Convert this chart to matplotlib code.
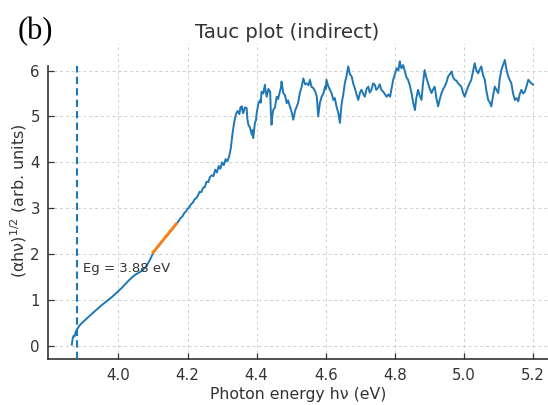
import matplotlib
matplotlib.use("Agg")
import matplotlib.pyplot as plt
import numpy as np

# ---- data ----
eg_value = 3.88
fit_range = [4.10, 4.167]
fit_slope = 9.27

energy_edge = [3.865, 3.868, 3.870, 3.873, 3.876, 3.880, 3.885, 3.890, 3.900, 3.910,
               3.920, 3.935, 3.950, 3.965, 3.980, 3.995, 4.010, 4.025, 4.040, 4.050,
               4.060, 4.070, 4.080, 4.090, 4.100, 4.110, 4.120, 4.130, 4.140, 4.150,
               4.160, 4.170]
tauc_edge = [0.03, 0.18, 0.22, 0.21, 0.30, 0.36, 0.42, 0.47, 0.54, 0.61,
             0.68, 0.78, 0.88, 0.97, 1.06, 1.16, 1.27, 1.39, 1.50, 1.56,
             1.60, 1.65, 1.73, 1.86, 2.02, 2.12, 2.21, 2.31, 2.40, 2.49,
             2.58, 2.68]

energy_rise = [4.175, 4.180, 4.185, 4.190, 4.195, 4.200, 4.205, 4.210, 4.215, 4.220,
               4.225, 4.230, 4.235, 4.240, 4.245, 4.250, 4.255, 4.260, 4.265, 4.270,
               4.275, 4.280, 4.285, 4.290, 4.295, 4.300, 4.305, 4.310, 4.315, 4.320,
               4.325, 4.330, 4.335, 4.340, 4.345, 4.350, 4.353]
tauc_rise = [2.73, 2.79, 2.82, 2.89, 2.93, 2.99, 3.02, 3.09, 3.12, 3.19,
             3.22, 3.28, 3.36, 3.35, 3.45, 3.46, 3.58, 3.57, 3.68, 3.72,
             3.70, 3.84, 3.78, 3.92, 3.86, 4.00, 3.94, 4.07, 4.02, 4.12,
             4.30, 4.62, 4.88, 5.05, 5.12, 5.05, 5.20]

energy_plateau = [4.357, 4.359, 4.361, 4.366, 4.371, 4.373, 4.376, 4.381, 4.386, 4.388,
                  4.390, 4.393, 4.395, 4.398, 4.400, 4.405, 4.410, 4.412, 4.414, 4.419,
                  4.424, 4.426, 4.429, 4.434, 4.439, 4.441, 4.443, 4.446, 4.448, 4.453,
                  4.458, 4.462, 4.467, 4.470, 4.472, 4.475, 4.477, 4.482, 4.487, 4.491,
                  4.496, 4.501, 4.506, 4.511, 4.516, 4.520, 4.525, 4.530, 4.535, 4.540,
                  4.545, 4.550, 4.554, 4.559, 4.564, 4.569, 4.574, 4.576, 4.578, 4.583,
                  4.588, 4.593, 4.598, 4.600, 4.602, 4.607, 4.612, 4.617, 4.622, 4.626,
                  4.631, 4.636, 4.641, 4.643, 4.646, 4.650, 4.655, 4.660, 4.665, 4.670,
                  4.675, 4.680, 4.684, 4.689, 4.694, 4.699, 4.703, 4.708, 4.713, 4.718,
                  4.723, 4.727, 4.732, 4.737, 4.742, 4.746, 4.751, 4.756, 4.761, 4.768,
                  4.776, 4.781, 4.786, 4.790, 4.795, 4.800, 4.805, 4.810, 4.814, 4.817,
                  4.819, 4.824, 4.829, 4.833, 4.838, 4.843, 4.848, 4.853, 4.858, 4.862,
                  4.867, 4.872, 4.877, 4.881, 4.886, 4.891, 4.896, 4.901, 4.906, 4.910,
                  4.915, 4.920, 4.925, 4.930, 4.935, 4.940, 4.944, 4.949, 4.954, 4.959,
                  4.964, 4.968, 4.973, 4.978, 4.983, 4.988, 4.992, 4.997, 5.002, 5.007,
                  5.012, 5.016, 5.021, 5.026, 5.031, 5.036, 5.041, 5.045, 5.050, 5.055,
                  5.060, 5.065, 5.070, 5.075, 5.079, 5.084, 5.089, 5.094, 5.099, 5.103,
                  5.108, 5.113, 5.118, 5.123, 5.128, 5.132, 5.137, 5.142, 5.147, 5.152,
                  5.157, 5.161, 5.166, 5.171, 5.176, 5.181, 5.186, 5.190, 5.195, 5.200]
tauc_plateau = [5.22, 5.12, 5.07, 5.20, 5.18, 4.95, 4.82, 4.75, 4.60, 4.70,
                4.53, 4.74, 4.86, 4.92, 5.07, 5.28, 5.36, 5.30, 5.54, 5.50,
                5.69, 5.55, 5.43, 5.60, 5.54, 5.10, 4.82, 5.05, 5.14, 5.20,
                5.43, 5.38, 5.54, 5.62, 5.76, 5.60, 5.51, 5.46, 5.29, 5.35,
                5.22, 5.10, 4.93, 5.12, 5.22, 5.30, 5.51, 5.64, 5.83, 5.70,
                5.72, 5.68, 5.80, 5.64, 5.62, 5.55, 5.43, 5.20, 5.00, 5.30,
                5.43, 5.50, 5.65, 5.60, 5.80, 5.66, 5.58, 5.50, 5.36, 5.40,
                5.22, 5.08, 4.86, 5.05, 5.29, 5.45, 5.72, 5.88, 6.09, 5.92,
                5.87, 5.70, 5.62, 5.48, 5.36, 5.52, 5.58, 5.50, 5.43, 5.60,
                5.65, 5.52, 5.58, 5.72, 5.69, 5.58, 5.62, 5.70, 5.58, 5.52,
                5.43, 5.48, 5.43, 5.60, 5.80, 5.92, 6.05, 6.00, 6.20, 6.10,
                6.05, 6.12, 5.98, 5.86, 5.80, 5.68, 5.51, 5.30, 5.14, 5.40,
                5.58, 5.45, 5.36, 5.70, 6.01, 5.85, 5.72, 5.60, 5.51, 5.58,
                5.65, 5.40, 5.22, 5.38, 5.51, 5.60, 5.65, 5.74, 5.87, 5.92,
                5.98, 5.86, 5.80, 5.78, 5.72, 5.68, 5.65, 5.52, 5.43, 5.55,
                5.65, 5.72, 5.80, 5.98, 6.16, 6.00, 5.94, 6.02, 6.09, 5.90,
                5.80, 5.55, 5.36, 5.30, 5.22, 5.45, 5.65, 5.58, 5.51, 5.80,
                6.01, 6.12, 6.23, 6.02, 5.87, 5.80, 5.72, 5.50, 5.36, 5.40,
                5.33, 5.48, 5.58, 5.50, 5.54, 5.66, 5.80, 5.76, 5.72, 5.69]

x_ticks = [4.0, 4.2, 4.4, 4.6, 4.8, 5.0, 5.2]
y_ticks = [0, 1, 2, 3, 4, 5, 6]

# ---- figure ----
text_col = "#333333"
fig = plt.figure(figsize=(5.48, 4.05), dpi=100)
ax = fig.add_axes([0.0881, 0.1128, 0.9119, 0.781])

energy = energy_edge + energy_rise + energy_plateau
tauc = tauc_edge + tauc_rise + tauc_plateau
ax.plot(energy, tauc, color="#1f77b4", lw=1.4, zorder=3)

fit_x = np.array(fit_range)
ax.plot(fit_x, fit_slope * (fit_x - eg_value), color="#ff7f0e", lw=2.0, zorder=4)

ylo, yhi = -0.29, 6.6
ax.plot([eg_value, eg_value], [ylo, 6.09], color="#1f77b4", lw=1.5,
        linestyle=(0, (3.5, 2)), zorder=3, clip_on=False)
ax.text(3.897, 1.68, f"Eg = {eg_value:.2f} eV", fontsize=9.5, color=text_col,
        va="center", ha="left")

ax.set_xlim(3.797, 5.243)
ax.set_ylim(ylo, yhi)
ax.set_xticks(x_ticks)
ax.set_xticklabels([f"{t:.1f}" for t in x_ticks])
ax.set_yticks(y_ticks)
ax.grid(True, linestyle=(0, (3, 3)), color="#cfcfcf", lw=0.7)
ax.set_axisbelow(True)
ax.tick_params(direction="in", length=4, width=0.9, colors=text_col,
               labelsize=10.8, pad=6)
for s in ["top", "right"]:
    ax.spines[s].set_visible(False)
for s in ["left", "bottom"]:
    ax.spines[s].set_color(text_col)
    ax.spines[s].set_linewidth(1.2)
ax.spines["left"].set_bounds(ylo, 6.09)

ax.set_xlabel("Photon energy hν (eV)", fontsize=11.3, color=text_col, labelpad=3)
ax.set_ylabel(r"(αhν)$^{1/2}$ (arb. units)", fontsize=11.5, color=text_col, labelpad=1)

fig.text(287 / 548, 1 - 33 / 405, "Tauc plot (indirect)", fontsize=14.2,
         color=text_col, ha="center", va="center")
fig.text(18 / 548, 1 - 32 / 405, "(b)", fontsize=22, family="Liberation Serif",
         color="black", ha="left", va="center")

fig.savefig("out.png", dpi=100)
